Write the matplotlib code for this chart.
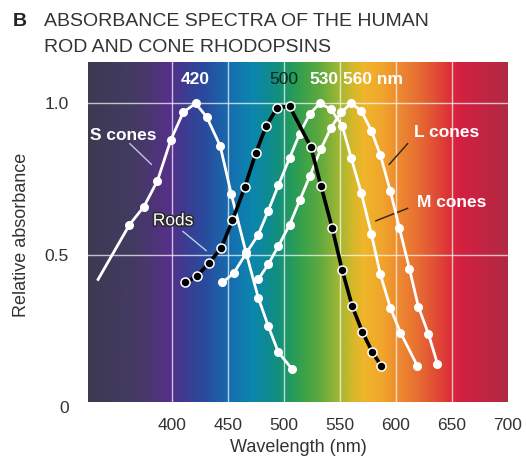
import numpy as np
import matplotlib
matplotlib.use("Agg")
import matplotlib.pyplot as plt
from matplotlib.colors import LinearSegmentedColormap
import matplotlib.patheffects as pe

plt.rcParams['font.family'] = ['Liberation Sans', 'DejaVu Sans']

# ---- data ----
# S cones: first point is the line start (no marker)
s_wl = [334, 362, 375, 387, 399, 410, 421, 431, 443, 453, 466, 477, 486, 495, 507]
s_abs = [0.42, 0.60, 0.66, 0.745, 0.88, 0.97, 1.0, 0.955, 0.86, 0.70, 0.51, 0.36, 0.266, 0.18, 0.126]

rod_wl = [412, 422, 433, 444, 454, 465, 475, 484, 494, 505, 524, 533, 543, 552, 561, 570, 579, 587]
rod_abs = [0.41, 0.43, 0.474, 0.524, 0.615, 0.724, 0.838, 0.924, 0.986, 0.99, 0.856, 0.728, 0.59,
           0.45, 0.331, 0.247, 0.18, 0.134]

m_wl = [445, 455, 466, 477, 486, 495, 505, 514, 523, 532, 542, 552, 560, 569, 578, 586, 595, 604, 619]
m_abs = [0.41, 0.44, 0.505, 0.567, 0.647, 0.73, 0.82, 0.90, 0.965, 1.0, 0.98, 0.926, 0.82, 0.705,
         0.57, 0.437, 0.326, 0.245, 0.136]

l_wl = [477, 486, 495, 505, 514, 523, 533, 542, 551, 560, 569, 578, 586, 595, 603, 612, 620, 629, 637]
l_abs = [0.42, 0.47, 0.53, 0.60, 0.68, 0.76, 0.85, 0.92, 0.97, 1.0, 0.975, 0.91, 0.83, 0.71, 0.59,
         0.455, 0.33, 0.24, 0.142]

x_ticks = [400, 450, 500, 550, 600, 650, 700]
y_ticks = [0, 0.5, 1.0]
y_ticklabels = ['0', '0.5', '1.0']

peak_labels = ['420', '500', '530', '560 nm']

# ---- figure ----
fig = plt.figure(figsize=(5.26, 4.59), dpi=100)
ax = fig.add_axes([88/526, 1-407/459, 420/526, 345/459])

xmin, xmax = 325, 700
ymin, ymax = 0.016, 1.136

# spectrum background
spec_nodes = [
    (325, '#3c3a52'), (365, '#443a62'), (385, '#4e3478'), (398, '#56308a'),
    (412, '#3c3c92'), (428, '#2a4a9c'), (442, '#1e5ea8'), (458, '#1276b0'),
    (472, '#0c86ac'), (485, '#0e8a94'), (496, '#15907a'), (506, '#229a5e'),
    (518, '#3ca249'), (532, '#5ea93e'), (542, '#84b138'), (552, '#acb832'),
    (562, '#d6b82a'), (572, '#f0b62a'), (588, '#f0a52c'), (602, '#ee8c30'),
    (618, '#e87232'), (632, '#e25634'), (645, '#de3838'), (656, '#d6203f'),
    (672, '#c82342'), (700, '#b02a42'),
]
pos = [(w - xmin) / (xmax - xmin) for w, _ in spec_nodes]
cmap = LinearSegmentedColormap.from_list('spec', list(zip(pos, [c for _, c in spec_nodes])))
grad = np.linspace(0, 1, 600).reshape(1, -1)
ax.imshow(grad, cmap=cmap, extent=(xmin, xmax, ymin, ymax), aspect='auto', zorder=0,
          interpolation='bilinear')

# grid lines
for xv in x_ticks[:-1]:
    ax.axvline(xv, color='white', lw=1.0, alpha=0.7, zorder=1)
for yv in y_ticks[1:]:
    ax.axhline(yv, color='white', lw=1.0, alpha=0.7, zorder=1)

# curves
ax.plot(s_wl, s_abs, color='white', lw=2, zorder=3, solid_joinstyle='round')
ax.plot(s_wl[1:], s_abs[1:], 'o', color='white', ms=6.5, zorder=4, markeredgewidth=0)
ax.plot(m_wl, m_abs, color='white', lw=2, zorder=3, solid_joinstyle='round')
ax.plot(m_wl, m_abs, 'o', color='white', ms=6.5, zorder=4, markeredgewidth=0)
ax.plot(l_wl, l_abs, color='white', lw=2, zorder=3, solid_joinstyle='round')
ax.plot(l_wl, l_abs, 'o', color='white', ms=6.5, zorder=4, markeredgewidth=0)
ax.plot(rod_wl, rod_abs, color='black', lw=2.6, zorder=5, solid_joinstyle='round')
ax.plot(rod_wl, rod_abs, 'o', color='black', ms=6.5, zorder=6, markeredgecolor='white',
        markeredgewidth=1.1)

# peak labels
ax.text(420.5, 1.078, peak_labels[0], color='white', fontsize=12.5, fontweight='bold',
        ha='center', va='center', zorder=7)
ax.text(500, 1.078, peak_labels[1], color='#10261a', fontsize=12.5,
        ha='center', va='center', zorder=7)
ax.text(536, 1.078, peak_labels[2], color='white', fontsize=12.5, fontweight='bold',
        ha='center', va='center', zorder=7)
ax.text(552.5, 1.078, peak_labels[3], color='white', fontsize=12.5, fontweight='bold',
        ha='left', va='center', zorder=7)

# curve labels with leaders
ax.text(327, 0.893, 'S cones', color='white', fontsize=12.5, fontweight='bold',
        ha='left', va='center', zorder=7)
ax.plot([362.4, 381.6], [0.867, 0.799], color='#c8c0e8', lw=1, zorder=2)

ax.text(401, 0.613, 'Rods', color='white', fontsize=12.5, ha='center', va='center', zorder=7,
        path_effects=[pe.withStroke(linewidth=2.2, foreground='#2a2a2a')])
ax.plot([409.8, 430.5], [0.578, 0.515], color='#b8d0f0', lw=1, zorder=2)

ax.text(645, 0.905, 'L cones', color='white', fontsize=12.5, fontweight='bold',
        ha='center', va='center', zorder=7)
ax.plot([610.3, 594], [0.867, 0.799], color='#3a2a10', lw=1.1, zorder=2)

ax.text(649.6, 0.672, 'M cones', color='white', fontsize=12.5, fontweight='bold',
        ha='center', va='center', zorder=7)
ax.plot([610.3, 582], [0.654, 0.613], color='#3a2a10', lw=1.1, zorder=2)

ax.set_xlim(xmin, xmax)
ax.set_ylim(ymin, ymax)
ax.set_xticks(x_ticks)
ax.set_xticklabels([str(v) for v in x_ticks])
ax.set_yticks(y_ticks)
ax.set_yticklabels(y_ticklabels)
ax.tick_params(length=0, labelsize=12.5, labelcolor='#333333', pad=8)
ax.tick_params(axis='y', pad=14)
for sp in ax.spines.values():
    sp.set_visible(False)

ax.set_xlabel('Wavelength (nm)', fontsize=13, color='#333333', labelpad=4)
ax.set_ylabel('Relative absorbance', fontsize=13, color='#333333', labelpad=10)

# title
fig.text(13/526, 1-22/459, 'B', fontsize=14, fontweight='bold', color='#222222',
         ha='left', va='center')
fig.text(44/526, 1-22/459, 'ABSORBANCE SPECTRA OF THE HUMAN', fontsize=14, color='#333333',
         ha='left', va='center')
fig.text(44/526, 1-47/459, 'ROD AND CONE RHODOPSINS', fontsize=14, color='#333333',
         ha='left', va='center')

fig.savefig('out.png', dpi=100)
